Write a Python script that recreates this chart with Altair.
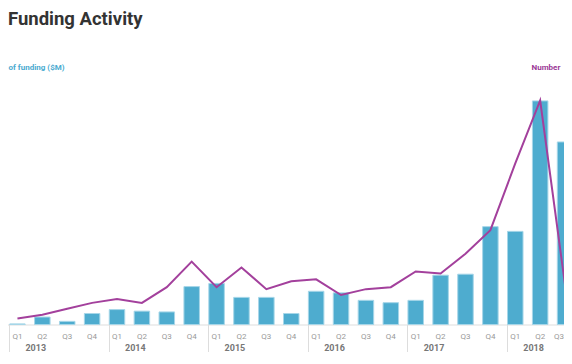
import altair as alt
import pandas as pd

years = ["2013", "2014", "2015", "2016", "2017", "2018"]
quarters = ["Q1", "Q2", "Q3", "Q4"]
funding = [3, 38, 16, 56, 76, 68, 64, 193, 209, 138, 138, 56,
           169, 161, 123, 111, 123, 251, 256, 498, 474, 1138, 929]
deals = [3, 5, 8, 11, 13, 11, 19, 32, 19, 29, 18, 22,
         23, 15, 18, 19, 27, 26, 36, 48, 82, 114, 20]
periods = [f"{y} {q}" for y in years for q in quarters][:len(funding)]
year_starts = [f"{y} Q1" for y in years]

df = pd.DataFrame({"period": periods, "funding": funding, "deals": deals})

FONT = "Roboto"
x_scale = alt.Scale(domain=periods, range=[-3, 569.5],
                    paddingInner=0.377, paddingOuter=0.1885)

last = periods[-1]

bars = alt.Chart(df).mark_bar(color="#4eaccf", stroke="#a6d6e8", strokeWidth=1).encode(
    x=alt.X("period:N", scale=x_scale,
            axis=alt.Axis(title=None, orient="bottom",
                          labelExpr="split(datum.value, ' ')[1]", labelAngle=0,
                          labelOffset={"condition": {"test": f"datum.value == '{last}'",
                                                     "value": -6}, "value": 0},
                          ticks=False, domain=True, domainColor="#dddddd", domainWidth=1,
                          labelColor="#999999", labelFont=FONT, labelFontSize=8,
                          labelPadding=7.5, grid=False)),
    y=alt.Y("funding:Q", scale=alt.Scale(domain=[0, 1140], nice=False),
            axis=alt.Axis(title="of funding ($M)", orient="left", labels=False, ticks=False,
                          domain=False, grid=False, titleAngle=0, titleAlign="left",
                          titleBaseline="middle", titleX=0, titleY=-33.5,
                          titleColor="#4aaad0", titleFont=FONT,
                          titleFontSize=8, titleFontWeight="bold")),
)

line = alt.Chart(df).mark_line(color="#a3409c", strokeWidth=2).encode(
    x=alt.X("period:N", scale=x_scale,
            axis=alt.Axis(title=None, orient="bottom", values=year_starts,
                          labelExpr="split(datum.value, ' ')[0]", bandPosition=0,
                          ticks=True, tickSize=36, tickColor="#dddddd", tickWidth=1,
                          domain=False, labelAngle=0, labelAlign="left", labelOffset=8,
                          labelPadding=-17.5, labelColor="#777777", labelFont=FONT,
                          labelFontSize=9, labelFontWeight="bold", grid=False)),
    y=alt.Y("deals:Q", scale=alt.Scale(domain=[0, 114], nice=False),
            axis=alt.Axis(title="Number", orient="right", labels=False, ticks=False,
                          domain=False, grid=False, titleAngle=0, titleAlign="left",
                          titleBaseline="middle", titleX=-33, titleY=-33.5,
                          titleColor="#9b3a96", titleFont=FONT, titleFontSize=8,
                          titleFontWeight="bold")),
)

chart = alt.layer(bars, line).resolve_scale(y="independent").resolve_axis(
    x="independent", y="independent"
).properties(
    width=556,
    height=224,
    background="white",
    padding={"left": 0, "top": 92.5, "right": 0, "bottom": 27.5},
    autosize=alt.AutoSizeParams(type="none"),
    title=alt.TitleParams("Funding Activity", anchor="start", frame="group", dx=0,
                          offset=20, baseline="alphabetic", font=FONT, fontSize=18.5,
                          fontWeight="bold", color="#333333"),
).configure_view(stroke="transparent", strokeWidth=0)

chart.save("out.html", embed_options={"renderer": "svg", "actions": False})
